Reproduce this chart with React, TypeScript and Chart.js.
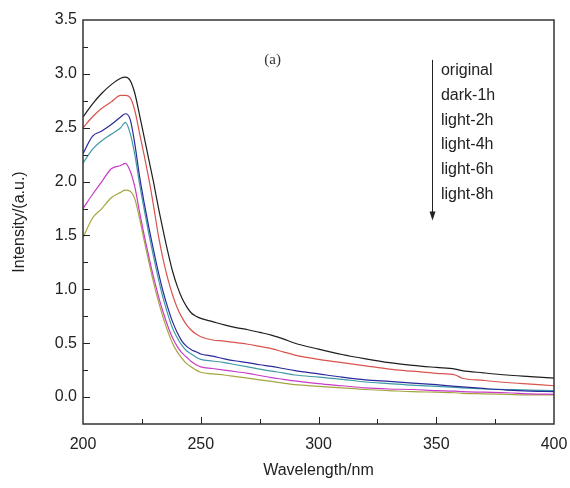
import React, { useEffect, useRef } from 'react';
import { Chart, registerables } from 'chart.js';

Chart.register(...registerables);

const wavelengths = [200, 204, 208, 212, 216, 218, 220, 222, 224, 226, 228, 230, 232, 234, 236, 238, 240, 242, 244, 246, 248, 250, 255, 260, 265, 270, 275, 280, 285, 290, 300, 310, 320, 330, 340, 350, 358, 361, 370, 380, 390, 400];

const original = [2.60, 2.72, 2.82, 2.90, 2.96, 2.97, 2.94, 2.82, 2.62, 2.41, 2.20, 1.99, 1.76, 1.55, 1.35, 1.17, 1.03, 0.92, 0.84, 0.78, 0.75, 0.73, 0.70, 0.67, 0.645, 0.625, 0.60, 0.575, 0.54, 0.50, 0.445, 0.395, 0.355, 0.32, 0.295, 0.275, 0.26, 0.245, 0.225, 0.205, 0.19, 0.175];
const dark1h = [2.50, 2.60, 2.68, 2.74, 2.80, 2.80, 2.78, 2.66, 2.45, 2.24, 2.02, 1.77, 1.50, 1.28, 1.10, 0.95, 0.83, 0.74, 0.67, 0.62, 0.585, 0.56, 0.53, 0.52, 0.505, 0.49, 0.47, 0.45, 0.42, 0.39, 0.35, 0.32, 0.29, 0.26, 0.24, 0.22, 0.205, 0.175, 0.155, 0.135, 0.12, 0.105];
const light2h = [2.26, 2.42, 2.47, 2.53, 2.60, 2.63, 2.58, 2.35, 2.05, 1.80, 1.57, 1.36, 1.16, 0.98, 0.83, 0.70, 0.60, 0.52, 0.47, 0.44, 0.42, 0.40, 0.38, 0.355, 0.335, 0.32, 0.30, 0.285, 0.265, 0.245, 0.215, 0.185, 0.16, 0.145, 0.13, 0.115, 0.10, 0.095, 0.08, 0.065, 0.055, 0.05];
const light4h = [2.17, 2.30, 2.38, 2.44, 2.50, 2.55, 2.45, 2.25, 1.98, 1.74, 1.51, 1.30, 1.10, 0.92, 0.77, 0.64, 0.55, 0.48, 0.43, 0.40, 0.37, 0.35, 0.335, 0.32, 0.30, 0.28, 0.26, 0.24, 0.225, 0.205, 0.185, 0.165, 0.14, 0.125, 0.11, 0.10, 0.09, 0.085, 0.075, 0.07, 0.065, 0.06];
const light6h = [1.75, 1.88, 2.00, 2.12, 2.15, 2.17, 2.10, 1.95, 1.72, 1.50, 1.30, 1.11, 0.94, 0.79, 0.66, 0.55, 0.47, 0.41, 0.37, 0.33, 0.30, 0.28, 0.265, 0.25, 0.235, 0.22, 0.20, 0.18, 0.165, 0.15, 0.125, 0.105, 0.085, 0.075, 0.07, 0.06, 0.055, 0.05, 0.045, 0.04, 0.03, 0.025];
const light8h = [1.48, 1.66, 1.75, 1.85, 1.90, 1.92, 1.91, 1.84, 1.66, 1.45, 1.25, 1.06, 0.89, 0.74, 0.61, 0.50, 0.42, 0.36, 0.31, 0.28, 0.25, 0.23, 0.215, 0.205, 0.19, 0.175, 0.16, 0.145, 0.13, 0.115, 0.10, 0.085, 0.07, 0.06, 0.05, 0.045, 0.04, 0.035, 0.03, 0.025, 0.02, 0.02];

const seriesNames = ['original', 'dark-1h', 'light-2h', 'light-4h', 'light-6h', 'light-8h'];
const seriesValues = [original, dark1h, light2h, light4h, light6h, light8h];
const seriesColors = ['#1e1e1e', '#d9534f', '#2a2a9c', '#3f9aa6', '#c83cc8', '#a6a640'];

const xTickValues = [200, 250, 300, 350, 400];
const yTickValues = [0, 0.5, 1.0, 1.5, 2.0, 2.5, 3.0, 3.5];
const xMinorStep = 25;
const yMinorStep = 0.25;

const panelLabel = '(a)';

export default function App() {
  const canvasRef = useRef<HTMLCanvasElement | null>(null);

  useEffect(() => {
    const canvas = canvasRef.current;
    if (!canvas) return;

    const decorPlugin = {
      id: 'decor',
      afterDraw(chart: any) {
        const { ctx, chartArea: a, scales } = chart;
        const xs = scales.x;
        const ys = scales.y;
        ctx.save();
        // inward ticks
        ctx.strokeStyle = '#222';
        ctx.lineWidth = 1;
        for (let v = xs.min + xMinorStep; v < xs.max; v += xMinorStep) {
          const px = Math.round(xs.getPixelForValue(v)) + 0.5;
          const major = Math.abs((v / 50) - Math.round(v / 50)) < 1e-6;
          const len = major ? 7 : 5;
          ctx.beginPath();
          ctx.moveTo(px, a.bottom);
          ctx.lineTo(px, a.bottom - len);
          ctx.stroke();
        }
        for (let v = ys.min + yMinorStep; v < ys.max - 1e-6; v += yMinorStep) {
          const py = Math.round(ys.getPixelForValue(v)) + 0.5;
          const major = Math.abs((v / 0.5) - Math.round(v / 0.5)) < 1e-6;
          const len = major ? 7 : 5;
          ctx.beginPath();
          ctx.moveTo(a.left, py);
          ctx.lineTo(a.left + len, py);
          ctx.stroke();
        }
        // frame
        ctx.strokeStyle = '#333';
        ctx.lineWidth = 1.5;
        ctx.strokeRect(a.left, a.top, a.right - a.left, a.bottom - a.top);

        // panel label
        ctx.fillStyle = '#333';
        ctx.font = '15px "Liberation Serif"';
        ctx.textAlign = 'center';
        ctx.textBaseline = 'middle';
        ctx.fillText(panelLabel, xs.getPixelForValue(280.5), ys.getPixelForValue(3.13));

        // arrow
        const ax = Math.round(xs.getPixelForValue(348)) + 0.5;
        const ayTop = ys.getPixelForValue(3.13);
        const ayBot = ys.getPixelForValue(1.64);
        ctx.strokeStyle = '#222';
        ctx.lineWidth = 1;
        ctx.beginPath();
        ctx.moveTo(ax, ayTop);
        ctx.lineTo(ax, ayBot - 6);
        ctx.stroke();
        ctx.fillStyle = '#222';
        ctx.beginPath();
        ctx.moveTo(ax - 3, ayBot - 9);
        ctx.lineTo(ax + 3, ayBot - 9);
        ctx.lineTo(ax, ayBot);
        ctx.closePath();
        ctx.fill();

        // series names list
        ctx.fillStyle = '#222';
        ctx.font = '16px "Liberation Sans"';
        ctx.textAlign = 'left';
        ctx.textBaseline = 'middle';
        const tx = xs.getPixelForValue(352);
        const startY = ys.getPixelForValue(3.03);
        const stepY = ys.getPixelForValue(2.80) - ys.getPixelForValue(3.03);
        seriesNames.forEach((name, i) => {
          ctx.fillText(name, tx, startY + i * stepY);
        });
        ctx.restore();
      },
    };

    const chart = new Chart(canvas, {
      type: 'line',
      data: {
        datasets: seriesNames.map((name, i) => ({
          label: name,
          data: wavelengths.map((w, j) => ({ x: w, y: seriesValues[i][j] })),
          borderColor: seriesColors[i],
          backgroundColor: seriesColors[i],
          borderWidth: 1.2,
          pointRadius: 0,
          cubicInterpolationMode: 'monotone' as const,
          fill: false,
        })),
      },
      options: {
        animation: false,
        responsive: false,
        maintainAspectRatio: false,
        layout: { padding: { left: 0, top: 20, right: 16, bottom: 0 } },
        plugins: {
          legend: { display: false },
          tooltip: { enabled: false },
        },
        scales: {
          x: {
            type: 'linear',
            min: 200,
            max: 400,
            afterBuildTicks: (scale: any) => {
              scale.ticks = xTickValues.map((v) => ({ value: v }));
            },
            afterFit: (scale: any) => {
              scale.height = 64;
              scale.paddingLeft = 0;
              scale.paddingRight = 0;
            },
            grid: { display: false, drawTicks: false },
            border: { display: false },
            ticks: {
              padding: 11,
              color: '#222',
              font: { family: '"Liberation Sans", Arial, sans-serif', size: 16 },
              maxRotation: 0,
              callback: (v: any) => String(v),
            },
            title: {
              display: true,
              text: 'Wavelength/nm',
              color: '#222',
              font: { family: '"Liberation Sans", Arial, sans-serif', size: 16 },
              padding: { top: 0, bottom: 8 },
            },
          },
          y: {
            type: 'linear',
            min: -0.25,
            max: 3.5,
            afterBuildTicks: (scale: any) => {
              scale.ticks = yTickValues.map((v) => ({ value: v }));
            },
            afterFit: (scale: any) => {
              scale.width = 83;
              scale.paddingTop = 0;
              scale.paddingBottom = 0;
            },
            grid: { display: false, drawTicks: false },
            border: { display: false },
            ticks: {
              padding: 6,
              color: '#222',
              font: { family: '"Liberation Sans", Arial, sans-serif', size: 16 },
              callback: (v: any) => Number(v).toFixed(1),
            },
            title: {
              display: true,
              text: 'Intensity/(a.u.)',
              color: '#222',
              font: { family: '"Liberation Sans", Arial, sans-serif', size: 16 },
              padding: { top: 10, bottom: 0 },
            },
          },
        },
      },
      plugins: [decorPlugin],
    });

    return () => {
      chart.destroy();
    };
  }, []);

  return (
    <div style={{ position: 'absolute', left: 0, top: 0, width: 570, height: 488, background: '#fff' }}>
      <canvas ref={canvasRef} width={570} height={488} style={{ width: 570, height: 488 }} />
    </div>
  );
}
